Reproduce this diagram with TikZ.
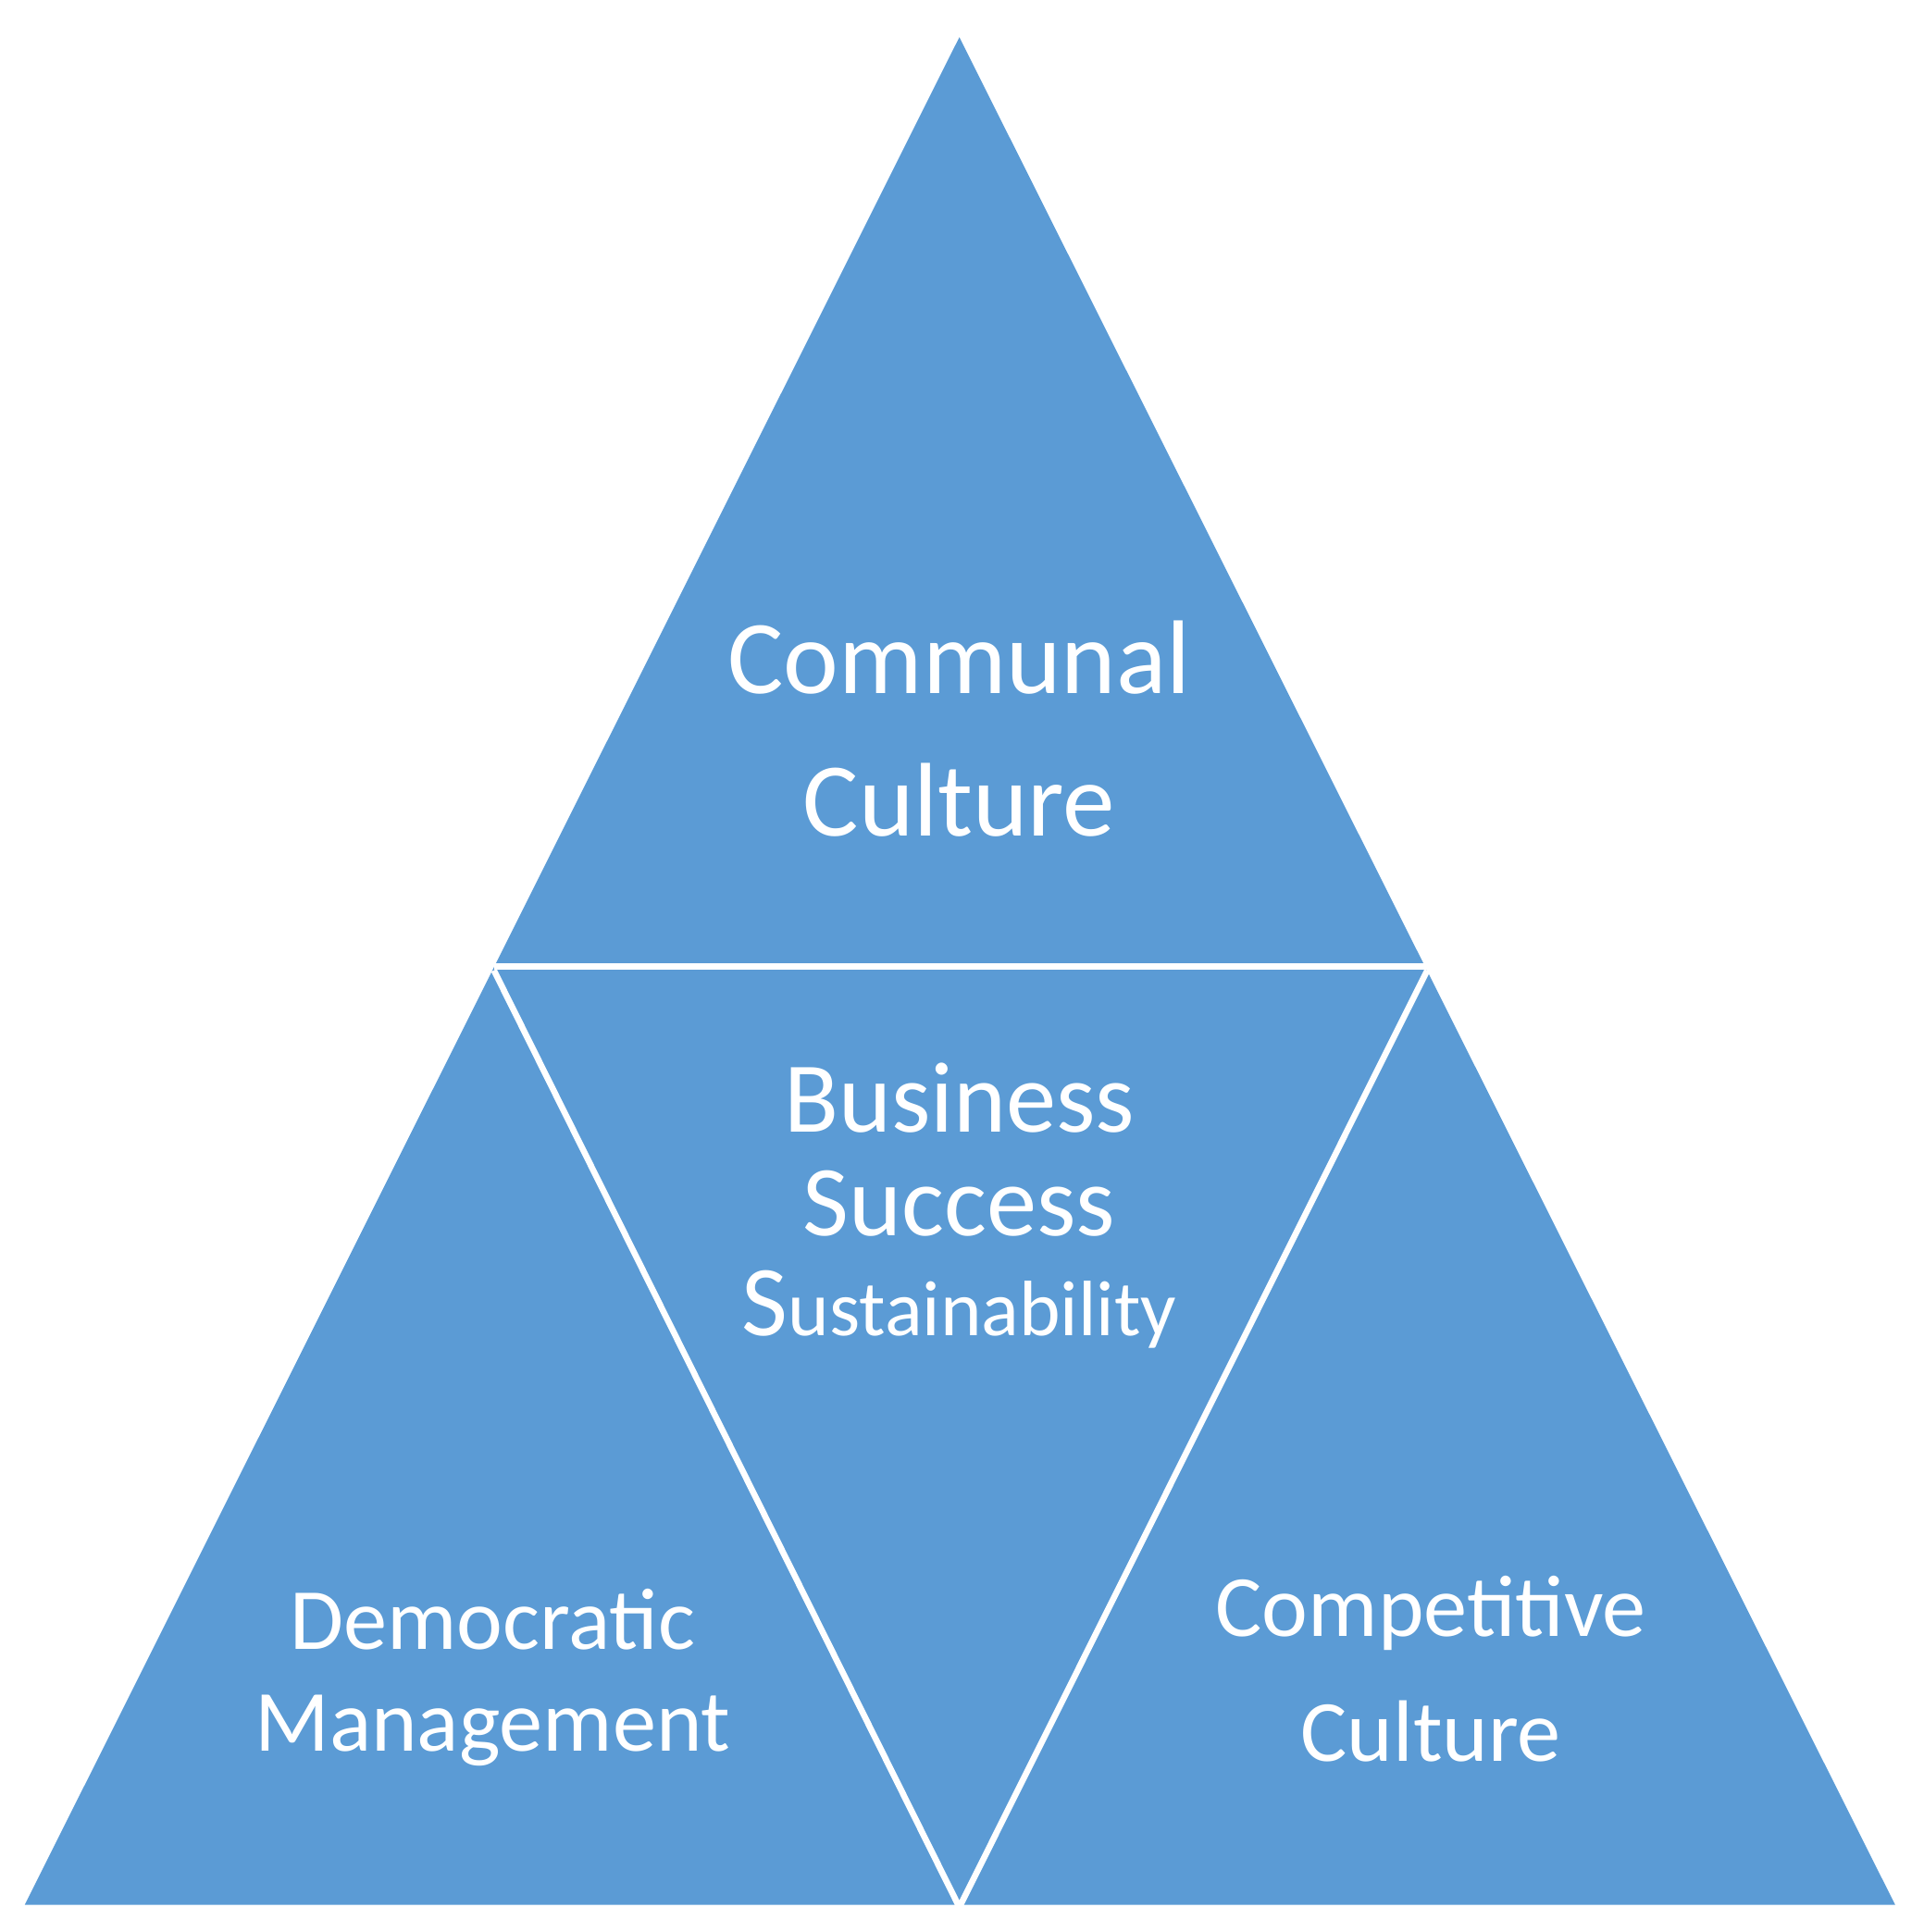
\documentclass[tikz,border=0pt]{standalone}
\usepackage{fontspec}
\setmainfont{Carlito}
\definecolor{blu}{HTML}{5B9BD5}
\begin{document}
\begin{tikzpicture}[x=0.01cm,y=-0.01cm,
  lbl/.style={text=white,align=center,inner sep=0pt},
  gap/.style={draw=white,line width=1.4pt}]
\useasboundingbox (0,0) rectangle (1550,1557);
\fill[blu] (773,30) -- (20,1535) -- (1527,1535) -- cycle;
\draw[gap] (398,779) -- (1150,779);
\draw[gap] (398,782) -- (773,1537) -- (1150,782);
\node[lbl,font=\fontsize{24}{24}\selectfont] (c1) at (773,530) {Communal};
\node[lbl,font=\fontsize{24}{24}\selectfont] (c2) at (773,645) {Culture};
\node[lbl,font=\fontsize{23}{23}\selectfont] (b1) at (773,885) {Business};
\node[lbl,font=\fontsize{23}{23}\selectfont] (b2) at (773,970) {Success};
\node[lbl,font=\fontsize{18}{18}\selectfont] (b3) at (773,1055) {{\fontsize{23}{23}\selectfont S}ustainability};
\node[lbl,font=\fontsize{20}{20}\selectfont] (d1) at (397,1305) {Democratic};
\node[lbl,font=\fontsize{20}{20}\selectfont] (d2) at (397,1395) {Management};
\node[lbl,font=\fontsize{20}{20}\selectfont] (p1) at (1153,1300) {Competitive};
\node[lbl,font=\fontsize{20}{20}\selectfont] (p2) at (1153,1395) {Culture};
\end{tikzpicture}
\end{document}
